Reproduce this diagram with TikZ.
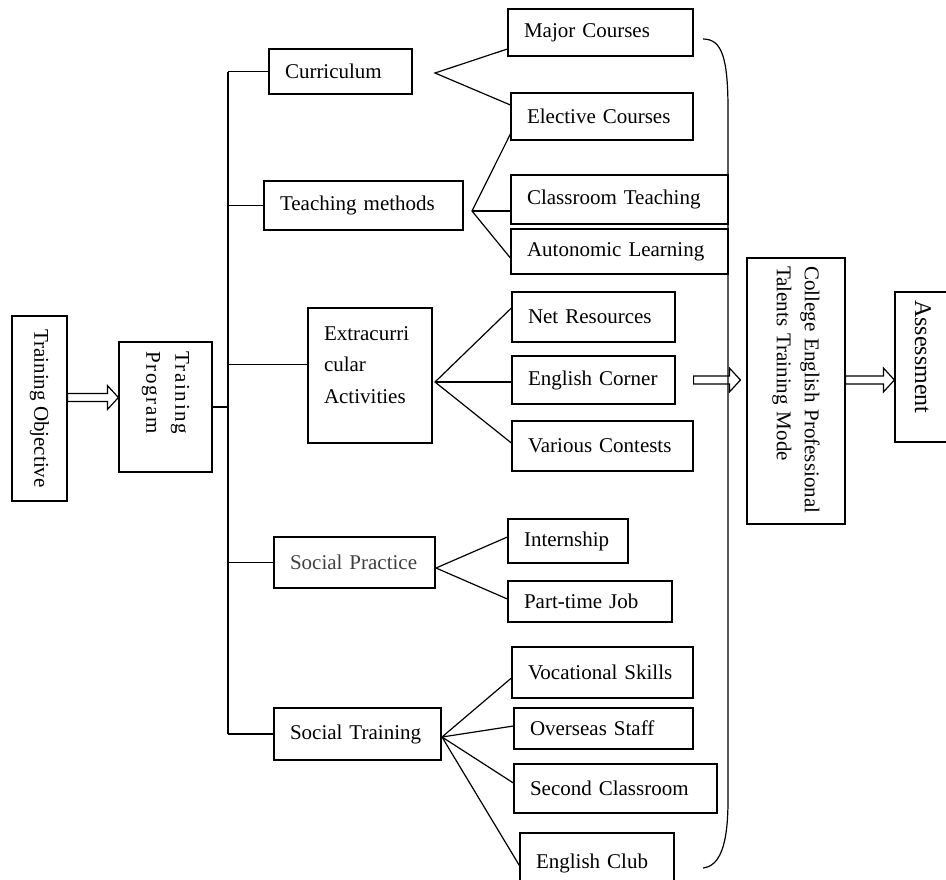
\documentclass[tikz,border=0pt]{standalone}
\usepackage{fontspec}
\setmainfont{Liberation Serif}
\usetikzlibrary{calc}

% hollow block arrow between two points, drawn at the height of the first one
\newcommand{\fatarrow}[2]{%
  \draw let \p1=#1, \p2=#2 in
    (\x1,\y1+2pt) -- (\x2-5.5pt,\y1+2pt) -- (\x2-5.5pt,\y1+6pt) -- (\x2,\y1)
    -- (\x2-5.5pt,\y1-6pt) -- (\x2-5.5pt,\y1-2pt) -- (\x1,\y1-2pt) -- cycle;}

\begin{document}
\begin{tikzpicture}[
  x=0.5pt, y=-0.5pt,
  font=\fontsize{10.5}{13}\selectfont,
  line width=0.6pt,
  bx/.style={draw, align=left, inner xsep=8pt, inner ysep=0pt},
  vbx/.style={draw, rotate=-90, inner ysep=0pt}
]
\useasboundingbox (0,0) rectangle (946,879);

% left column
\node[vbx, align=center, minimum width=92.5pt, minimum height=27.5pt] (obj) at (39.5,408.5) {Training Objective};
\node[vbx, align=left, inner xsep=4.5pt, text width=56pt, minimum width=65pt, minimum height=46.5pt,
      font=\fontsize{10.5}{14.5}\selectfont\addfontfeature{LetterSpace=8}] (prog) at (165.5,407) {Training\\Program};

% second level
\node[bx, text width=55.5pt, minimum height=22.5pt] (curr) at (340.5,71.5) {Curriculum};
\node[bx, text width=83.5pt, minimum height=24.5pt] (teach) at (363.5,205.5) {Teaching methods};
\node[bx, text width=46pt, minimum height=67.5pt, font=\fontsize{10.5}{15.75}\selectfont] (extra) at (370,375.5)
  {Extracurri\\cular\\Activities\\[-5pt]\mbox{}};
\node[bx, text width=64.5pt, minimum height=25.5pt, text=black!75] (sprac) at (354.5,562.5) {Social Practice};
\node[bx, text width=67.5pt, minimum height=26pt] (strain) at (357.5,734) {Social Training};

% third level
\node[bx, text width=76.5pt, minimum height=23.5pt] (major) at (600.5,32.5) {Major Courses};
\node[bx, text width=75pt, minimum height=23.5pt] (elect) at (602,116.5) {Elective Courses};
\node[bx, text width=92.5pt, minimum height=24.5pt] (class) at (619.5,199.5) {Classroom Teaching};
\node[bx, text width=92.5pt, minimum height=22.5pt] (auton) at (619.5,251.5) {Autonomic Learning};
\node[bx, text width=65.5pt, minimum height=25pt] (net) at (593.5,317) {Net Resources};
\node[bx, text width=65.5pt, minimum height=24pt] (corner) at (593.5,380) {English Corner};
\node[bx, text width=74.5pt, minimum height=25pt] (contest) at (602.5,446) {Various Contests};
\node[bx, text width=44pt, minimum height=22pt] (intern) at (568,541) {Internship};
\node[bx, text width=66pt, minimum height=20.5pt] (part) at (590,601.5) {Part-time Job};
\node[bx, text width=74.5pt, minimum height=25.5pt] (voc) at (602.5,672.5) {Vocational Skills};
\node[bx, text width=73.5pt, minimum height=20.5pt] (overs) at (603.5,728.5) {Overseas Staff};
\node[bx, text width=85.5pt, minimum height=24.5pt] (second) at (615.5,788.5) {Second Classroom};
\node[bx, text width=61pt, minimum height=30pt] (club) at (597,863) {English Club};

% right column
\node[vbx, align=left, inner xsep=4pt, text width=125pt, minimum width=133pt, minimum height=49pt,
      font=\fontsize{10.5}{14}\selectfont] (mode) at (796,391)
  {College English Professional\\Talents Training Mode};
\node[vbx, align=left, inner xsep=4pt, text width=67pt, minimum width=75pt, minimum height=28pt,
      font=\fontsize{12}{14}\selectfont] (assess) at (923,367) {Assessment};

% trunk and branches
\coordinate (trunk) at (228,0);
\coordinate (ebr) at ([yshift=5.5pt]extra.west);
\draw (curr.west -| trunk) -- (strain.west -| trunk);
\draw (prog.north) -- (prog.north -| trunk);
\draw (curr.west) -- (curr.west -| trunk);
\draw (teach.west) -- (teach.west -| trunk);
\draw (ebr) -- (ebr -| trunk);
\draw (sprac.west) -- (sprac.west -| trunk);
\draw (strain.west) -- (strain.west -| trunk);

% fans
\coordinate (cfan) at (435,73);
\coordinate (tfan) at (472,211);
\coordinate (efan) at (435,382);
\coordinate (pfan) at (436,568);
\coordinate (sfan) at (442,737);
\draw ([yshift=-8.25pt]major.west) -- (cfan) -- ([yshift=5.75pt]elect.west);
\draw ([yshift=-8.75pt]elect.west) -- (tfan) -- ([yshift=-3.25pt]auton.west);
\draw (tfan) -- (class.west |- tfan);
\draw ([yshift=4.5pt]net.west) -- (efan) -- ([yshift=1.5pt]contest.west);
\draw (efan) -- (corner.west |- efan);
\draw ([yshift=2pt]intern.west) -- (pfan) -- ([yshift=1.25pt]part.west);
\draw ([yshift=-2.75pt]voc.west) -- (sfan) -- ([yshift=1.25pt]overs.west);
\draw ([yshift=2.75pt]second.west) -- (sfan) -- ([yshift=-1.25pt]club.west);

% big bracket
\draw (703,39) .. controls (722,39) and (728,58) .. (728,110) -- (728,800)
  .. controls (728,845) and (720,866) .. (703,868);

% block arrows
\coordinate (a1) at ([yshift=5.5pt]obj.north);
\fatarrow{(a1)}{(prog.south)}
\fatarrow{(contest.east |- corner.east)}{([xshift=-3pt]mode.south)}
\fatarrow{(mode.north |- corner.east)}{(assess.south)}
\end{tikzpicture}
\end{document}
